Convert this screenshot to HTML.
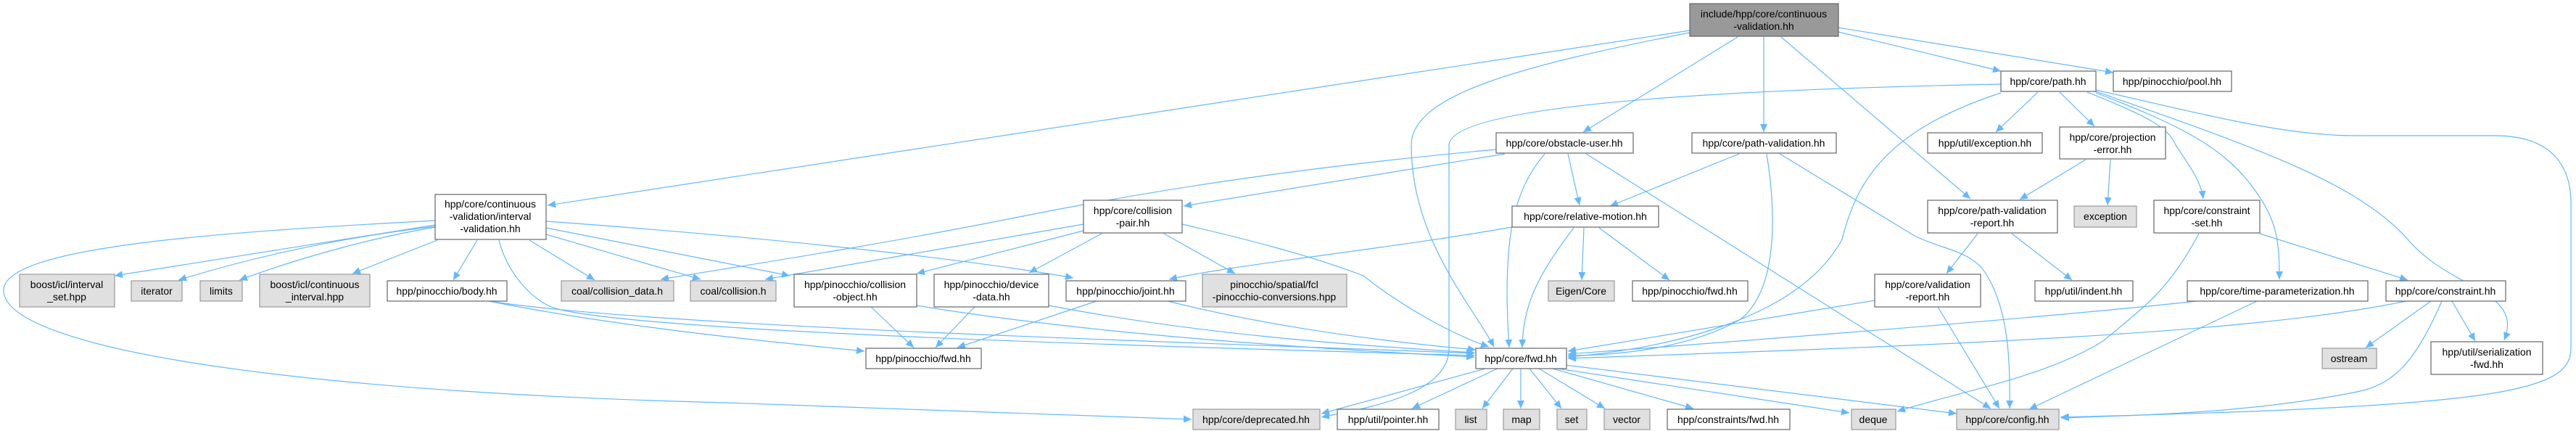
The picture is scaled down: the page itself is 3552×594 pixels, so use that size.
<!DOCTYPE html>
<html><head><meta charset="utf-8"><style>
html,body{margin:0;padding:0;background:#fff;}
svg{display:block;}
text{font-family:"Liberation Sans",sans-serif;font-size:14px;fill:#000;text-anchor:middle;}
.e{fill:none;stroke:#63b8ff;stroke-width:1.2;marker-end:url(#a);}
.w{fill:#fff;stroke:#666;stroke-width:1.2;}
.g{fill:#e0e0e0;stroke:#999;stroke-width:1.2;}
.m{fill:#999;stroke:#666;stroke-width:1.2;}
</style></head><body>
<svg width="3552" height="594" viewBox="0 0 3552 594" xmlns="http://www.w3.org/2000/svg">
<defs><marker id="a" markerUnits="userSpaceOnUse" markerWidth="12" markerHeight="10" refX="11" refY="5" orient="auto"><path d="M0,0 L11,5 L0,10 z" fill="#63b8ff"/></marker></defs>
<g>
<path class="e" d="M2330,42 L755,283"/>
<path class="e" d="M2330,45 C2100,90 1946,130 1946,200 C1946,330 2030,420 2060,478"/>
<path class="e" d="M2396,51 L2183,182"/>
<path class="e" d="M2432,51 L2432,182"/>
<path class="e" d="M2456,51 L2717,274"/>
<path class="e" d="M2535,44 L2759,98"/>
<path class="e" d="M2535,38 L2914,100"/>
<path class="e" d="M2759,116 C2300,125 2000,150 1998,200 L1998,480 C1998,540 1900,560 1822,575"/>
<path class="e" d="M2759,128 C2600,180 2560,250 2540,330 C2480,440 2300,480 2162,492"/>
<path class="e" d="M2810,127 L2752,182"/>
<path class="e" d="M2840,127 L2888,174"/>
<path class="e" d="M2878,127 C2960,160 2990,175 3000,200 C3020,230 3035,250 3038,274"/>
<path class="e" d="M2890,128 C3000,170 3060,200 3100,250 C3140,300 3143,330 3143,385"/>
<path class="e" d="M2890,126 C3100,200 3250,250 3320,330 C3380,400 3480,400 3453,469"/>
<path class="e" d="M2890,124 C3050,160 3150,187 3250,187 L3440,187 C3520,187 3545,230 3545,280 L3545,480 C3545,540 3450,560 2841,575"/>
<path class="e" d="M2876,220 L2785,275"/>
<path class="e" d="M2910,220 L2906,283"/>
<path class="e" d="M2727,322 L2684,377"/>
<path class="e" d="M2774,322 L2857,386"/>
<path class="e" d="M2454,212 L2640,325 C2680,345 2720,345 2740,380 C2770,430 2772,500 2771,563"/>
<path class="e" d="M3032,322 C2990,400 2960,420 2900,470 C2820,520 2700,540 2616,567"/>
<path class="e" d="M3116,322 L3320,386"/>
<path class="e" d="M3029,415 C2800,440 2400,470 2162,488"/>
<path class="e" d="M3112,415 L2798,564"/>
<path class="e" d="M3318,415 C3100,460 2700,475 2162,494"/>
<path class="e" d="M3352,415 L3262,479"/>
<path class="e" d="M3381,415 L3413,470"/>
<path class="e" d="M3367,415 C3330,500 3300,530 3250,540 C3100,570 2950,572 2842,576"/>
<path class="e" d="M2585,414 L2162,484"/>
<path class="e" d="M2672,423 L2757,563"/>
<path class="e" d="M2048,508 L1822,570"/>
<path class="e" d="M2065,508 L1947,563"/>
<path class="e" d="M2086,508 L2044,563"/>
<path class="e" d="M2097,508 L2097,563"/>
<path class="e" d="M2109,508 L2153,563"/>
<path class="e" d="M2122,508 L2213,563"/>
<path class="e" d="M2141,508 L2335,563"/>
<path class="e" d="M2148,508 L2550,569"/>
<path class="e" d="M2158,503 L2698,570"/>
<path class="e" d="M2130,212 C2090,260 2070,320 2081,479"/>
<path class="e" d="M2162,212 L2178,283"/>
<path class="e" d="M2075,212 L1632,284"/>
<path class="e" d="M2063,206 C1800,230 1600,260 1400,300 C1200,340 1000,370 911,385"/>
<path class="e" d="M2187,212 L2745,563"/>
<path class="e" d="M2398,212 L2220,284"/>
<path class="e" d="M2436,212 C2450,300 2450,400 2400,440 C2330,480 2230,490 2162,490"/>
<path class="e" d="M2170,314 C2120,380 2100,420 2099,479"/>
<path class="e" d="M2184,314 L2181,386"/>
<path class="e" d="M2205,314 L2302,386"/>
<path class="e" d="M2085,313 C1900,345 1700,365 1612,385"/>
<path class="e" d="M1494,309 L1055,385"/>
<path class="e" d="M1494,318 L1264,377"/>
<path class="e" d="M1519,322 L1419,376"/>
<path class="e" d="M1605,322 L1703,377"/>
<path class="e" d="M1630,309 C1720,330 1800,350 1880,380 C1930,420 2000,460 2053,478"/>
<path class="e" d="M600,310 L158,380"/>
<path class="e" d="M600,312 C450,330 330,360 246,386"/>
<path class="e" d="M600,313 C500,330 400,360 330,386"/>
<path class="e" d="M603,331 L486,377"/>
<path class="e" d="M658,331 L625,386"/>
<path class="e" d="M730,331 L820,386"/>
<path class="e" d="M753,323 L966,385"/>
<path class="e" d="M753,314 L1089,380"/>
<path class="e" d="M753,305 C1100,330 1350,360 1480,383"/>
<path class="e" d="M688,331 C700,380 740,420 770,426 C900,460 1700,480 2033,490"/>
<path class="e" d="M600,304 C300,320 5,340 5,400 C5,480 400,540 1000,555 C1300,565 1500,572 1643,578"/>
<path class="e" d="M674,415 C850,450 1050,470 1192,484"/>
<path class="e" d="M674,415 C900,450 1600,470 2033,487"/>
<path class="e" d="M1201,423 L1260,479"/>
<path class="e" d="M1264,421 C1500,460 1800,480 2033,492"/>
<path class="e" d="M1344,423 L1290,479"/>
<path class="e" d="M1446,421 C1650,460 1850,475 2033,486"/>
<path class="e" d="M1512,415 L1320,479"/>
<path class="e" d="M1610,415 C1750,450 1900,470 2035,482"/>
</g>
<g>
<rect class="m" x="2330" y="5" width="205" height="45"/><text x="2432" y="24">include/hpp/core/continuous</text><text x="2432" y="41">-validation.hh</text>
<rect class="w" x="600" y="268" width="153" height="62"/><text x="676" y="286">hpp/core/continuous</text><text x="676" y="303">-validation/interval</text><text x="676" y="320">-validation.hh</text>
<rect class="g" x="27" y="378" width="131" height="45"/><text x="92" y="397">boost/icl/interval</text><text x="92" y="414">_set.hpp</text>
<rect class="g" x="181" y="387" width="70" height="28"/><text x="216" y="406">iterator</text>
<rect class="g" x="276" y="387" width="58" height="28"/><text x="305" y="406">limits</text>
<rect class="g" x="358" y="378" width="152" height="45"/><text x="434" y="397">boost/icl/continuous</text><text x="434" y="414">_interval.hpp</text>
<rect class="w" x="534" y="387" width="165" height="28"/><text x="616" y="406">hpp/pinocchio/body.hh</text>
<rect class="g" x="774" y="387" width="155" height="28"/><text x="851" y="406">coal/collision_data.h</text>
<rect class="g" x="952" y="387" width="118" height="28"/><text x="1011" y="406">coal/collision.h</text>
<rect class="w" x="1095" y="378" width="169" height="45"/><text x="1179" y="397">hpp/pinocchio/collision</text><text x="1179" y="414">-object.hh</text>
<rect class="w" x="1288" y="378" width="158" height="45"/><text x="1367" y="397">hpp/pinocchio/device</text><text x="1367" y="414">-data.hh</text>
<rect class="w" x="1470" y="387" width="165" height="28"/><text x="1552" y="406">hpp/pinocchio/joint.hh</text>
<rect class="g" x="1658" y="378" width="199" height="45"/><text x="1757" y="397">pinocchio/spatial/fcl</text><text x="1757" y="414">-pinocchio-conversions.hpp</text>
<rect class="w" x="1494" y="276" width="136" height="45"/><text x="1562" y="295">hpp/core/collision</text><text x="1562" y="312">-pair.hh</text>
<rect class="w" x="1194" y="480" width="159" height="28"/><text x="1273" y="499">hpp/pinocchio/fwd.hh</text>
<rect class="g" x="1645" y="564" width="175" height="28"/><text x="1732" y="583">hpp/core/deprecated.hh</text>
<rect class="w" x="2063" y="183" width="189" height="28"/><text x="2157" y="202">hpp/core/obstacle-user.hh</text>
<rect class="w" x="2333" y="183" width="199" height="28"/><text x="2432" y="202">hpp/core/path-validation.hh</text>
<rect class="w" x="2085" y="284" width="202" height="29"/><text x="2186" y="303">hpp/core/relative-motion.hh</text>
<rect class="g" x="2135" y="387" width="91" height="28"/><text x="2180" y="406">Eigen/Core</text>
<rect class="w" x="2251" y="387" width="159" height="28"/><text x="2330" y="406">hpp/pinocchio/fwd.hh</text>
<rect class="w" x="2035" y="480" width="125" height="28"/><text x="2097" y="499">hpp/core/fwd.hh</text>
<rect class="w" x="1844" y="564" width="140" height="28"/><text x="1914" y="583">hpp/util/pointer.hh</text>
<rect class="g" x="2007" y="564" width="43" height="28"/><text x="2028" y="583">list</text>
<rect class="g" x="2073" y="564" width="50" height="28"/><text x="2098" y="583">map</text>
<rect class="g" x="2147" y="564" width="41" height="28"/><text x="2167" y="583">set</text>
<rect class="g" x="2212" y="564" width="63" height="28"/><text x="2243" y="583">vector</text>
<rect class="w" x="2299" y="564" width="169" height="28"/><text x="2383" y="583">hpp/constraints/fwd.hh</text>
<rect class="g" x="2553" y="564" width="61" height="28"/><text x="2583" y="583">deque</text>
<rect class="g" x="2698" y="564" width="141" height="28"/><text x="2768" y="583">hpp/core/config.hh</text>
<rect class="w" x="2585" y="378" width="146" height="45"/><text x="2658" y="397">hpp/core/validation</text><text x="2658" y="414">-report.hh</text>
<rect class="w" x="2658" y="183" width="158" height="28"/><text x="2737" y="202">hpp/util/exception.hh</text>
<rect class="w" x="2658" y="276" width="179" height="45"/><text x="2747" y="295">hpp/core/path-validation</text><text x="2747" y="312">-report.hh</text>
<rect class="w" x="2759" y="98" width="131" height="28"/><text x="2824" y="117">hpp/core/path.hh</text>
<rect class="w" x="2914" y="98" width="163" height="28"/><text x="2995" y="117">hpp/pinocchio/pool.hh</text>
<rect class="w" x="2840" y="175" width="146" height="44"/><text x="2913" y="194">hpp/core/projection</text><text x="2913" y="211">-error.hh</text>
<rect class="g" x="2860" y="284" width="86" height="29"/><text x="2903" y="303">exception</text>
<rect class="w" x="2970" y="276" width="146" height="45"/><text x="3043" y="295">hpp/core/constraint</text><text x="3043" y="312">-set.hh</text>
<rect class="w" x="2806" y="387" width="135" height="28"/><text x="2873" y="406">hpp/util/indent.hh</text>
<rect class="w" x="3016" y="387" width="249" height="28"/><text x="3140" y="406">hpp/core/time-parameterization.hh</text>
<rect class="w" x="3290" y="387" width="165" height="28"/><text x="3372" y="406">hpp/core/constraint.hh</text>
<rect class="g" x="3202" y="480" width="75" height="28"/><text x="3239" y="499">ostream</text>
<rect class="w" x="3352" y="471" width="154" height="45"/><text x="3429" y="490">hpp/util/serialization</text><text x="3429" y="507">-fwd.hh</text>
</g>
</svg>
</body></html>
